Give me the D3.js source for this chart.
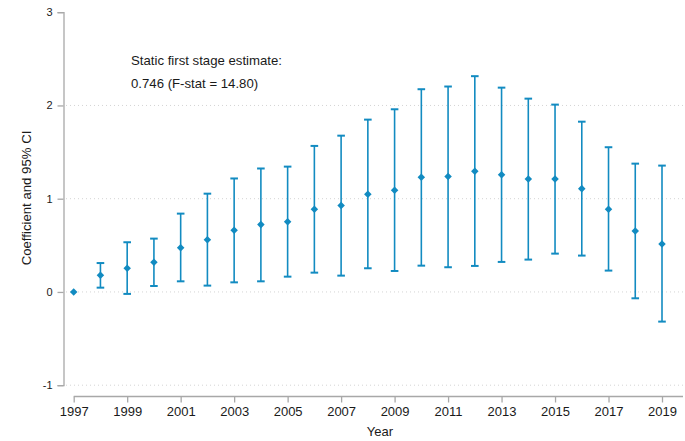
<!DOCTYPE html>
<html>
<head>
<meta charset="utf-8">
<script src="https://cdn.jsdelivr.net/npm/d3@7"></script>
<style>
  html, body { margin: 0; padding: 0; background: #fff; }
  svg { display: block; font-family: "Liberation Sans", Arial, sans-serif; }
</style>
</head>
<body>
<svg id="chart" width="685" height="441"></svg>
<script>
// Event-study coefficients with 95% confidence intervals
const years = [1997, 1998, 1999, 2000, 2001, 2002, 2003, 2004, 2005, 2006, 2007, 2008,
               2009, 2010, 2011, 2012, 2013, 2014, 2015, 2016, 2017, 2018, 2019];
const coef  = [0, 0.18, 0.254, 0.318, 0.475, 0.561, 0.661, 0.722, 0.754, 0.887, 0.926, 1.047,
               1.09, 1.23, 1.237, 1.294, 1.258, 1.212, 1.212, 1.108, 0.887, 0.654, 0.515];
const lower = [0, 0.046, -0.021, 0.064, 0.114, 0.068, 0.103, 0.114, 0.164, 0.207, 0.175, 0.254,
               0.225, 0.282, 0.265, 0.279, 0.322, 0.347, 0.411, 0.39, 0.229, -0.068, -0.318];
const upper = [0, 0.31, 0.533, 0.572, 0.84, 1.054, 1.217, 1.324, 1.344, 1.566, 1.676, 1.848,
               1.959, 2.174, 2.203, 2.314, 2.191, 2.073, 2.009, 1.826, 1.552, 1.376, 1.355];
const yTicks = [-1, 0, 1, 2, 3];
const xTicks = [1997, 1999, 2001, 2003, 2005, 2007, 2009, 2011, 2013, 2015, 2017, 2019];
const note = ["Static first stage estimate:", "0.746 (F-stat = 14.80)"];

const rows = years.map((yr, i) => ({ yr, b: coef[i], lo: lower[i], hi: upper[i] }));

const svg = d3.select("#chart");
const color = "#128bc1";
const axisColor = "#a8a8a8";
const textColor = "#1a1a1a";
const plain = d => String(d);

const x = d3.scaleLinear().domain([1997, 2019]).range([73.7, 662]);
const y = d3.scaleLinear().domain([-1, 3]).range([385.2, 12.2]);

// gridlines
svg.append("g")
  .selectAll("line")
  .data(yTicks.filter(t => t < 3))
  .join("line")
  .attr("x1", 66).attr("x2", 683)
  .attr("y1", d => y(d)).attr("y2", d => y(d))
  .attr("stroke", "#d4d4d4")
  .attr("stroke-width", 1)
  .attr("stroke-dasharray", "1,3");

// y axis
const yAxis = svg.append("g")
  .attr("transform", "translate(63.5,0)")
  .call(d3.axisLeft(y).tickValues(yTicks).tickSize(6).tickPadding(5).tickFormat(plain));
yAxis.select(".domain").attr("stroke", axisColor).attr("stroke-width", 1.3);
yAxis.selectAll(".tick line").attr("stroke", axisColor).attr("stroke-width", 1.3);
yAxis.selectAll(".tick text")
  .attr("fill", textColor)
  .style("font-size", "11px")
  .style("font-family", "'Liberation Sans', Arial, sans-serif");

// x axis
const xAxisG = svg.append("g")
  .attr("transform", "translate(0,396.5)");
xAxisG.append("line")
  .attr("x1", x(1997)).attr("x2", 683)
  .attr("stroke", axisColor).attr("stroke-width", 1.6);
const xAxis = xAxisG.call(d3.axisBottom(x).tickValues(xTicks).tickSize(6).tickPadding(4).tickFormat(plain));
xAxis.select(".domain").remove();
xAxis.selectAll(".tick line").attr("stroke", axisColor).attr("stroke-width", 1.3);
xAxis.selectAll(".tick text")
  .attr("fill", textColor)
  .style("font-size", "13px")
  .style("font-family", "'Liberation Sans', Arial, sans-serif");

// axis titles
svg.append("text")
  .attr("x", 380).attr("y", 436)
  .attr("text-anchor", "middle")
  .attr("fill", textColor)
  .style("font-size", "13px")
  .text("Year");
svg.append("text")
  .attr("transform", "translate(31,198) rotate(-90)")
  .attr("text-anchor", "middle")
  .attr("fill", textColor)
  .style("font-size", "13.2px")
  .text("Coefficient and 95% CI");

// annotation
svg.append("g")
  .selectAll("text")
  .data(note)
  .join("text")
  .attr("x", 131)
  .attr("y", (d, i) => 65 + i * 22.5)
  .attr("fill", textColor)
  .style("font-size", "13.2px")
  .text(d => d);

// confidence intervals
const ci = svg.append("g").attr("stroke", color).attr("stroke-width", 1.6).attr("fill", "none");
const ciRows = rows.filter(d => d.hi !== d.lo);
ci.selectAll("line.v").data(ciRows).join("line").attr("class", "v")
  .attr("x1", d => x(d.yr)).attr("x2", d => x(d.yr))
  .attr("y1", d => y(d.lo)).attr("y2", d => y(d.hi));
ci.selectAll("line.top").data(ciRows).join("line").attr("class", "top")
  .attr("x1", d => x(d.yr) - 3.8).attr("x2", d => x(d.yr) + 3.8)
  .attr("y1", d => y(d.hi)).attr("y2", d => y(d.hi))
  .attr("stroke-width", 2);
ci.selectAll("line.bot").data(ciRows).join("line").attr("class", "bot")
  .attr("x1", d => x(d.yr) - 3.8).attr("x2", d => x(d.yr) + 3.8)
  .attr("y1", d => y(d.lo)).attr("y2", d => y(d.lo))
  .attr("stroke-width", 2);

// point estimates (diamonds)
const diamond = d3.symbol().type(d3.symbolDiamond2).size(36);
svg.append("g")
  .selectAll("path")
  .data(rows)
  .join("path")
  .attr("transform", d => `translate(${x(d.yr)},${y(d.b)})`)
  .attr("d", diamond)
  .attr("fill", color);
</script>
</body>
</html>
